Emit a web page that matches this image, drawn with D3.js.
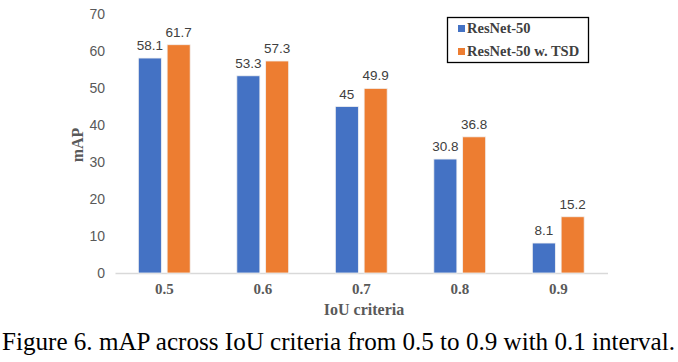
<!DOCTYPE html>
<html><head><meta charset="utf-8">
<script src="https://cdn.jsdelivr.net/npm/d3@7"></script>
<style>body{margin:0;background:#fff}svg{display:block}
.sans{font-family:'Liberation Sans',Arial,sans-serif}
.serif{font-family:'Liberation Serif','Times New Roman',serif}
</style>
</head><body>
<script>
const categories = ["0.5","0.6","0.7","0.8","0.9"];
const seriesNames = ["ResNet-50","ResNet-50 w. TSD"];
const resnet50 = [58.1, 53.3, 45, 30.8, 8.1];
const resnet50TSD = [61.7, 57.3, 49.9, 36.8, 15.2];
const yTicks = [0,10,20,30,40,50,60,70];
const colors = ["#4472C4","#ED7D31"];

const W=678,H=362;
const svg=d3.select("body").append("svg").attr("width",W).attr("height",H);
const x=d3.scaleBand().domain(categories).range([115,607.5]).paddingInner(0).paddingOuter(0);
const xs=d3.scaleBand().domain([0,1]).range([0,x.bandwidth()]).paddingInner(0.2).paddingOuter(0.81);
const y=d3.scaleLinear().domain([0,70]).range([273,14]);

const yAxis=d3.axisLeft(y).tickValues(yTicks).tickSize(0).tickPadding(0);
const ya=svg.append("g").attr("transform","translate(105,0)").call(yAxis);
ya.select(".domain").remove();
ya.selectAll("text").attr("class","sans").attr("font-family",null).attr("font-size",14).attr("fill","#595959");

const xa=svg.append("g").attr("transform","translate(0,273)").call(d3.axisBottom(x).tickSize(0).tickPadding(10));
xa.select(".domain").attr("stroke","#d9d9d9").attr("stroke-width",1.3);
xa.selectAll("text").attr("class","serif").attr("font-family",null).attr("font-weight","bold").attr("font-size",15).attr("fill","#595959");

const data=[resnet50,resnet50TSD];
data.forEach((vals,si)=>{
  const g=svg.append("g");
  g.selectAll("rect").data(vals).join("rect")
   .attr("x",(d,i)=>x(categories[i])+xs(si))
   .attr("y",d=>y(d))
   .attr("width",xs.bandwidth())
   .attr("height",d=>y(0)-y(d))
   .attr("fill",colors[si]).attr("stroke","#f2f2f2").attr("stroke-width",0.8);
  g.selectAll("text").data(vals).join("text")
   .attr("class","sans")
   .attr("x",(d,i)=>x(categories[i])+xs(si)+xs.bandwidth()/2)
   .attr("y",d=>y(d)-8)
   .attr("text-anchor","middle")
   .attr("font-size",13.5).attr("fill","#404040")
   .text(d=>d);
});

svg.append("text").attr("class","serif").attr("transform","translate(83,145) rotate(-90)").attr("text-anchor","middle")
 .attr("font-weight","bold").attr("font-size",16).attr("fill","#595959").text("mAP");
svg.append("text").attr("class","serif").attr("x",364).attr("y",315).attr("text-anchor","middle")
 .attr("font-weight","bold").attr("font-size",16).attr("fill","#595959").text("IoU criteria");

const lg=svg.append("g");
lg.append("rect").attr("x",447.5).attr("y",17.5).attr("width",141).attr("height",45).attr("fill","#fff").attr("stroke","#000").attr("stroke-width",1.3);
seriesNames.forEach((n,i)=>{
  lg.append("rect").attr("x",458).attr("y",25+i*23).attr("width",7).attr("height",7).attr("fill",colors[i]);
  lg.append("text").attr("class","serif").attr("x",467).attr("y",33+i*23).attr("font-weight","bold").attr("font-size",14.5).attr("fill","#404040").text(n);
});

svg.append("text").attr("class","serif").attr("x",2).attr("y",350).attr("font-size",24.5).attr("fill","#000")
 .attr("textLength",673).attr("lengthAdjust","spacingAndGlyphs")
 .text("Figure 6. mAP across IoU criteria from 0.5 to 0.9 with 0.1 interval.");
</script>
</body></html>
